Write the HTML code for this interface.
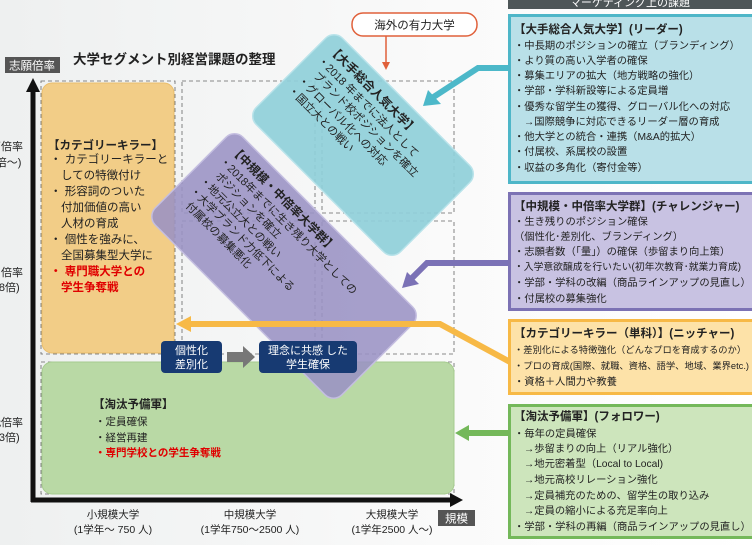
<!DOCTYPE html>
<html><head><meta charset="utf-8"><style>
html,body{margin:0;padding:0;width:752px;height:545px;overflow:hidden;background:#f3f4f4}
svg{display:block}
text{font-family:"Liberation Sans","Noto Sans CJK JP",sans-serif;fill:#222}
.b{font-weight:bold}
.r{fill:#e00000}
.w{fill:#fff}
</style></head><body>
<svg width="752" height="545" viewBox="0 0 752 545" xmlns="http://www.w3.org/2000/svg">
<defs>
<linearGradient id="bg" x1="0" y1="0" x2="1" y2="0"><stop offset="0" stop-color="#eef0f0"/><stop offset="0.6" stop-color="#fafafa"/><stop offset="1" stop-color="#ffffff"/></linearGradient>
</defs>
<rect width="752" height="545" fill="url(#bg)"/>

<g fill="none" stroke="#666" stroke-dasharray="4,3" stroke-width="0.8">
<rect x="41" y="81" width="134" height="273"/>
<rect x="182" y="81" width="133" height="132"/>
<rect x="322" y="81" width="132" height="132"/>
<rect x="182" y="221" width="133" height="133"/>
<rect x="322" y="221" width="132" height="133"/>
<rect x="41" y="362" width="134" height="132"/>
<rect x="182" y="362" width="133" height="132"/>
<rect x="322" y="362" width="132" height="132"/>
<line x1="41" y1="217" x2="175" y2="217"/>
</g>

<rect x="42" y="83" width="132" height="270" rx="10" fill="#f2cd87" stroke="#e9bd6b" stroke-width="1"/>
<rect x="42" y="362" width="412" height="132" rx="10" fill="#b9d9a5" stroke="#a5cb8e" stroke-width="1"/>

<line x1="33" y1="90" x2="33" y2="502" stroke="#111" stroke-width="5"/>
<polygon points="33,78 26,92 40,92" fill="#111"/>
<line x1="31" y1="500" x2="452" y2="500" stroke="#111" stroke-width="5"/>
<polygon points="463,500 450,493 450,507" fill="#111"/>
<rect x="5" y="57" width="55" height="16" fill="#555"/>
<text x="32" y="69.5" font-size="11.5" class="w" text-anchor="middle">志願倍率</text>
<rect x="438" y="510" width="37" height="16" fill="#555"/>
<text x="456.5" y="522.5" font-size="11.5" class="w" text-anchor="middle">規模</text>

<text x="73" y="64" font-size="13.5" class="b">大学セグメント別経営課題の整理</text>

<g font-size="11">
<text x="-10" y="150">高倍率</text><text x="-14" y="166">(3倍〜)</text>
<text x="-10" y="276">中倍率</text><text x="-14" y="291">(1.8倍)</text>
<text x="-10" y="426">低倍率</text><text x="-14" y="441">(1.3倍)</text>
</g>

<g font-size="10.5" text-anchor="middle">
<text x="113" y="518">小規模大学</text><text x="113" y="533">(1学年〜 750 人)</text>
<text x="250" y="518">中規模大学</text><text x="250" y="533">(1学年750〜2500 人)</text>
<text x="392" y="518">大規模大学</text><text x="392" y="533">(1学年2500 人〜)</text>
</g>

<g font-size="11.5">
<text x="48" y="149" class="b">【カテゴリーキラー】</text>
<text x="50" y="163">・ カテゴリーキラーと</text>
<text x="61" y="179">しての特徴付け</text>
<text x="50" y="195">・ 形容詞のついた</text>
<text x="61" y="211">付加価値の高い</text>
<text x="61" y="227">人材の育成</text>
<text x="50" y="243">・ 個性を強みに、</text>
<text x="61" y="259">全国募集型大学に</text>
<text x="50" y="275" class="r b">・ 専門職大学との</text>
<text x="61" y="291" class="r b">学生争奪戦</text>
</g>

<g font-size="10.5">
<text x="93" y="408" class="b" font-size="11.5">【淘汰予備軍】</text>
<text x="95" y="425">・定員確保</text>
<text x="95" y="441">・経営再建</text>
<text x="95" y="456" class="r b">・専門学校との学生争奪戦</text>
</g>

<g transform="translate(363,145) rotate(45)">
<rect x="-102" y="-61" width="204" height="122" rx="12" fill="#8fcfd9" fill-opacity="0.92" stroke="#b9e3ea" stroke-width="1.5"/>
<g font-size="11">
<text x="-92" y="-42" class="b" font-size="12">【大手総合人気大学】</text>
<text x="-92" y="-27">・2018 年までに法人として</text>
<text x="-84" y="-13">ブランド校ポジションを確立</text>
<text x="-92" y="1">・グローバル化への対応</text>
<text x="-92" y="15">・国立大との戦い</text>
</g>
</g>

<g transform="translate(284,266) rotate(45)">
<rect x="-132" y="-62" width="264" height="124" rx="12" fill="#9a92c4" fill-opacity="0.88" stroke="#c4bee0" stroke-width="1.5"/>
<g font-size="11">
<text x="-120" y="-43" class="b" font-size="12">【中規模・中倍率大学群】</text>
<text x="-120" y="-28">・2018年までに生き残り大学としての</text>
<text x="-112" y="-14">ポジションを確立</text>
<text x="-120" y="0">・地元公立大との戦い</text>
<text x="-120" y="14">・大学ブランド力低下による</text>
<text x="-112" y="28">付属校の募集悪化</text>
</g>
</g>

<rect x="352" y="13" width="125" height="23" rx="11" fill="#fff" stroke="#e0603a" stroke-width="1.5"/>
<text x="414.5" y="29" font-size="11.5" text-anchor="middle">海外の有力大学</text>
<line x1="386" y1="36" x2="386" y2="64" stroke="#e0603a" stroke-width="1.5"/>
<polygon points="386,70 382,62 390,62" fill="#e0603a"/>

<polyline points="510,68 478,68 432,98" fill="none" stroke="#4cb8c9" stroke-width="6"/>
<polygon points="423,106 428,90 441,104" fill="#4cb8c9"/>
<polyline points="510,263 427,263 410,280" fill="none" stroke="#7b72b6" stroke-width="6"/>
<polygon points="402,288 407,272 419,284" fill="#7b72b6"/>
<polyline points="510,362 440,324 188,324" fill="none" stroke="#f7b946" stroke-width="6"/>
<polygon points="176,324 191,316 191,332" fill="#f7b946"/>
<line x1="510" y1="433" x2="466" y2="433" stroke="#74b85a" stroke-width="6"/>
<polygon points="455,433 469,425 469,441" fill="#74b85a"/>

<rect x="161" y="341" width="61" height="32" rx="4" fill="#173a72"/>
<text x="191.5" y="354" font-size="11" class="w" text-anchor="middle">個性化</text>
<text x="191.5" y="368" font-size="11" class="w" text-anchor="middle">差別化</text>
<polygon points="227,352 243,352 243,346 255,357 243,368 243,362 227,362" fill="#777"/>
<rect x="259" y="341" width="98" height="32" rx="4" fill="#173a72"/>
<text x="308" y="354" font-size="11" class="w" text-anchor="middle">理念に共感 した</text>
<text x="308" y="368" font-size="11" class="w" text-anchor="middle">学生確保</text>

<rect x="508" y="0" width="244" height="9" fill="#4e5658"/>
<text x="630" y="6" font-size="11" class="w" text-anchor="middle">マーケティング上の課題</text>

<rect x="509.5" y="15.5" width="245" height="167" fill="#b9e0e8" stroke="#4eb6c8" stroke-width="3"/>
<g font-size="10.3">
<text x="514" y="33" class="b" font-size="11.5">【大手総合人気大学】(リーダー)</text>
<text x="514" y="49">・中長期のポジションの確立（ブランディング）</text>
<text x="514" y="64">・より質の高い入学者の確保</text>
<text x="514" y="79">・募集エリアの拡大（地方戦略の強化）</text>
<text x="514" y="94">・学部・学科新設等による定員増</text>
<text x="514" y="110">・優秀な留学生の獲得、グローバル化への対応</text>
<text x="524" y="125">→国際競争に対応できるリーダー層の育成</text>
<text x="514" y="140">・他大学との統合・連携（M&amp;A的拡大）</text>
<text x="514" y="155">・付属校、系属校の設置</text>
<text x="514" y="171">・収益の多角化（寄付金等）</text>
</g>

<rect x="509.5" y="193.5" width="245" height="116" fill="#c8c2e2" stroke="#7c72b4" stroke-width="3"/>
<g font-size="10.3">
<text x="514" y="210" class="b" font-size="11.5">【中規模・中倍率大学群】(チャレンジャー)</text>
<text x="514" y="225">・生き残りのポジション確保</text>
<text x="514" y="240">（個性化･差別化、ブランディング）</text>
<text x="514" y="255">・志願者数（「量」）の確保（歩留まり向上策）</text>
<text x="514" y="270" font-size="9.8">・入学意欲醸成を行いたい(初年次教育･就業力育成)</text>
<text x="514" y="286">・学部・学科の改編（商品ラインアップの見直し）</text>
<text x="514" y="302">・付属校の募集強化</text>
</g>

<rect x="509.5" y="320.5" width="245" height="73" fill="#fde2a8" stroke="#f7b946" stroke-width="3"/>
<g font-size="10.3">
<text x="514" y="337" class="b" font-size="11.5">【カテゴリーキラー（単科）】(ニッチャー)</text>
<text x="514" y="353" font-size="9.3">・差別化による特徴強化（どんなプロを育成するのか）</text>
<text x="514" y="369" font-size="9.3">・プロの育成(国際、就職、資格、語学、地域、業界etc.)</text>
<text x="514" y="385">・資格＋人間力や教養</text>
</g>

<rect x="509.5" y="405.5" width="245" height="132" fill="#cde5bc" stroke="#74b85a" stroke-width="3"/>
<g font-size="10.3">
<text x="514" y="420" class="b" font-size="11.5">【淘汰予備軍】(フォロワー)</text>
<text x="514" y="437">・毎年の定員確保</text>
<text x="524" y="452">→歩留まりの向上（リアル強化）</text>
<text x="524" y="467">→地元密着型（Local to Local)</text>
<text x="524" y="483">→地元高校リレーション強化</text>
<text x="524" y="499">→定員補充のための、留学生の取り込み</text>
<text x="524" y="514">→定員の縮小による充足率向上</text>
<text x="514" y="530">・学部・学科の再編（商品ラインアップの見直し）</text>
</g>
</svg>
</body></html>
